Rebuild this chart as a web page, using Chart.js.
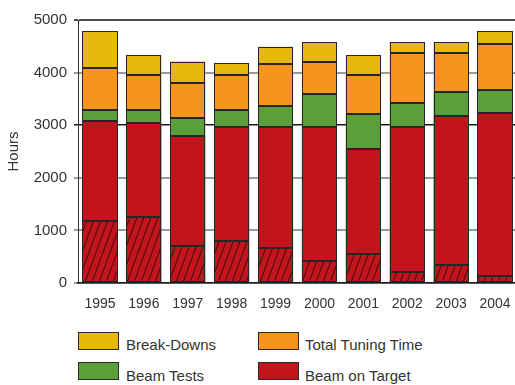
<!DOCTYPE html>
<html>
<head>
<meta charset="utf-8">
<script src="https://cdn.jsdelivr.net/npm/chart.js@4/dist/chart.umd.min.js"></script>
<style>
html,body{margin:0;padding:0;background:#fff;overflow:hidden;width:515px;height:385px;}
#wrap{position:absolute;left:0;top:0;width:517px;height:310px;}
.lg{position:absolute;font-family:'Liberation Sans',Arial,sans-serif;font-size:15px;color:#333;white-space:nowrap;}
.box{position:absolute;width:39px;height:16px;border:1px solid #2a2a2a;}
</style>
</head>
<body>
<div id="wrap"><canvas id="c" width="517" height="310"></canvas></div>
<div class="box" style="left:78px;top:332px;background:#E6B80B"></div>
<div class="lg" style="left:126px;top:336px">Break-Downs</div>
<div class="box" style="left:258px;top:332px;background:#F7941F"></div>
<div class="lg" style="left:305px;top:336px">Total Tuning Time</div>
<div class="box" style="left:78px;top:362px;background:#5B9F3A"></div>
<div class="lg" style="left:126px;top:367px">Beam Tests</div>
<div class="box" style="left:258px;top:362px;background:#C2141C"></div>
<div class="lg" style="left:305px;top:367px">Beam on Target</div>
<script>
const years = ['1995','1996','1997','1998','1999','2000','2001','2002','2003','2004'];
const beamOnTargetHatched = [1180,1250,710,800,665,420,545,200,335,125];
const beamOnTargetPlain = [1900,1785,2090,2165,2295,2545,2000,2760,2835,3115];
const beamTests = [210,255,335,330,410,620,665,455,455,425];
const tuningTime = [790,660,660,660,785,620,740,950,740,875];
const breakDowns = [710,385,415,220,335,375,380,210,210,245];
const yTicks = [0,1000,2000,3000,4000,5000];

const RED = '#C2141C', GREEN = '#5B9F3A', ORANGE = '#F7941F', YELLOW = '#E6B80B';

function hatchPattern(){
  const w = 7, h = 19;
  const p = document.createElement('canvas');
  p.width = w; p.height = h;
  const g = p.getContext('2d');
  g.fillStyle = RED; g.fillRect(0,0,w,h);
  g.strokeStyle = '#3a0d0d'; g.lineWidth = 1;
  g.beginPath();
  g.moveTo(0,h); g.lineTo(w,0);
  g.moveTo(-w,h); g.lineTo(0,0);
  g.moveTo(w,h); g.lineTo(2*w,0);
  g.stroke();
  return document.getElementById('c').getContext('2d').createPattern(p,'repeat');
}

const outline = {
  id:'outline',
  afterDatasetsDraw(chart){
    const ctx = chart.ctx;
    ctx.save();
    ctx.strokeStyle = '#262626';
    ctx.lineWidth = 1;
    chart.data.datasets.forEach((ds,i)=>{
      chart.getDatasetMeta(i).data.forEach(el=>{
        const l = Math.round(el.x - el.width/2) + 0.5;
        const r = Math.round(el.x + el.width/2) - 0.5;
        const t = Math.round(Math.min(el.y, el.base)) + 0.5;
        const b = Math.round(Math.max(el.y, el.base)) - 0.5;
        ctx.strokeRect(l, t, r-l, b-t);
      });
    });
    ctx.restore();
  }
};

const common = {borderWidth:0, stack:'s'};
const FONT = {family:"'Liberation Sans', Arial, sans-serif"};

new Chart(document.getElementById('c'), {
  type:'bar',
  data:{
    labels: years,
    datasets:[
      Object.assign({label:'Beam on Target (hatched)', data:beamOnTargetHatched, backgroundColor:hatchPattern()}, common),
      Object.assign({label:'Beam on Target', data:beamOnTargetPlain, backgroundColor:RED}, common),
      Object.assign({label:'Beam Tests', data:beamTests, backgroundColor:GREEN}, common),
      Object.assign({label:'Total Tuning Time', data:tuningTime, backgroundColor:ORANGE}, common),
      Object.assign({label:'Break-Downs', data:breakDowns, backgroundColor:YELLOW}, common)
    ]
  },
  plugins:[outline],
  options:{
    responsive:false,
    animation:false,
    layout:{padding:{top:20,right:0,left:0,bottom:0}},
    plugins:{legend:{display:false}, tooltip:{enabled:false}},
    datasets:{bar:{categoryPercentage:1, barPercentage:0.8}},
    scales:{
      x:{
        stacked:true,
        grid:{display:false},
        border:{display:true,color:'#1a1a1a',width:1.5},
        ticks:{color:'#333', padding:5, font:Object.assign({size:14},FONT), maxRotation:0},
        afterFit(s){ s.height = 27; }
      },
      y:{
        stacked:true,
        min:0, max:5000,
        afterBuildTicks(s){ s.ticks = yTicks.map(v=>({value:v})); },
        grid:{
          color(ctx){ const v = ctx.tick && ctx.tick.value; if(v===3000) return '#1a1a1a'; if(v===5000) return '#4a4a4a'; return '#9a9a9a'; },
          lineWidth(ctx){ const v = ctx.tick && ctx.tick.value; if(v===3000) return 1.5; return 2; },
          tickLength:4
        },
        border:{display:true,color:'#333',width:1},
        ticks:{color:'#333', padding:7, font:Object.assign({size:15},FONT), callback:(v)=>String(v)},
        title:{display:true,text:'Hours',color:'#333',font:Object.assign({size:15},FONT),padding:{top:5,bottom:0}},
        afterFit(s){ s.width = 78; }
      }
    }
  }
});
</script>
</body>
</html>
